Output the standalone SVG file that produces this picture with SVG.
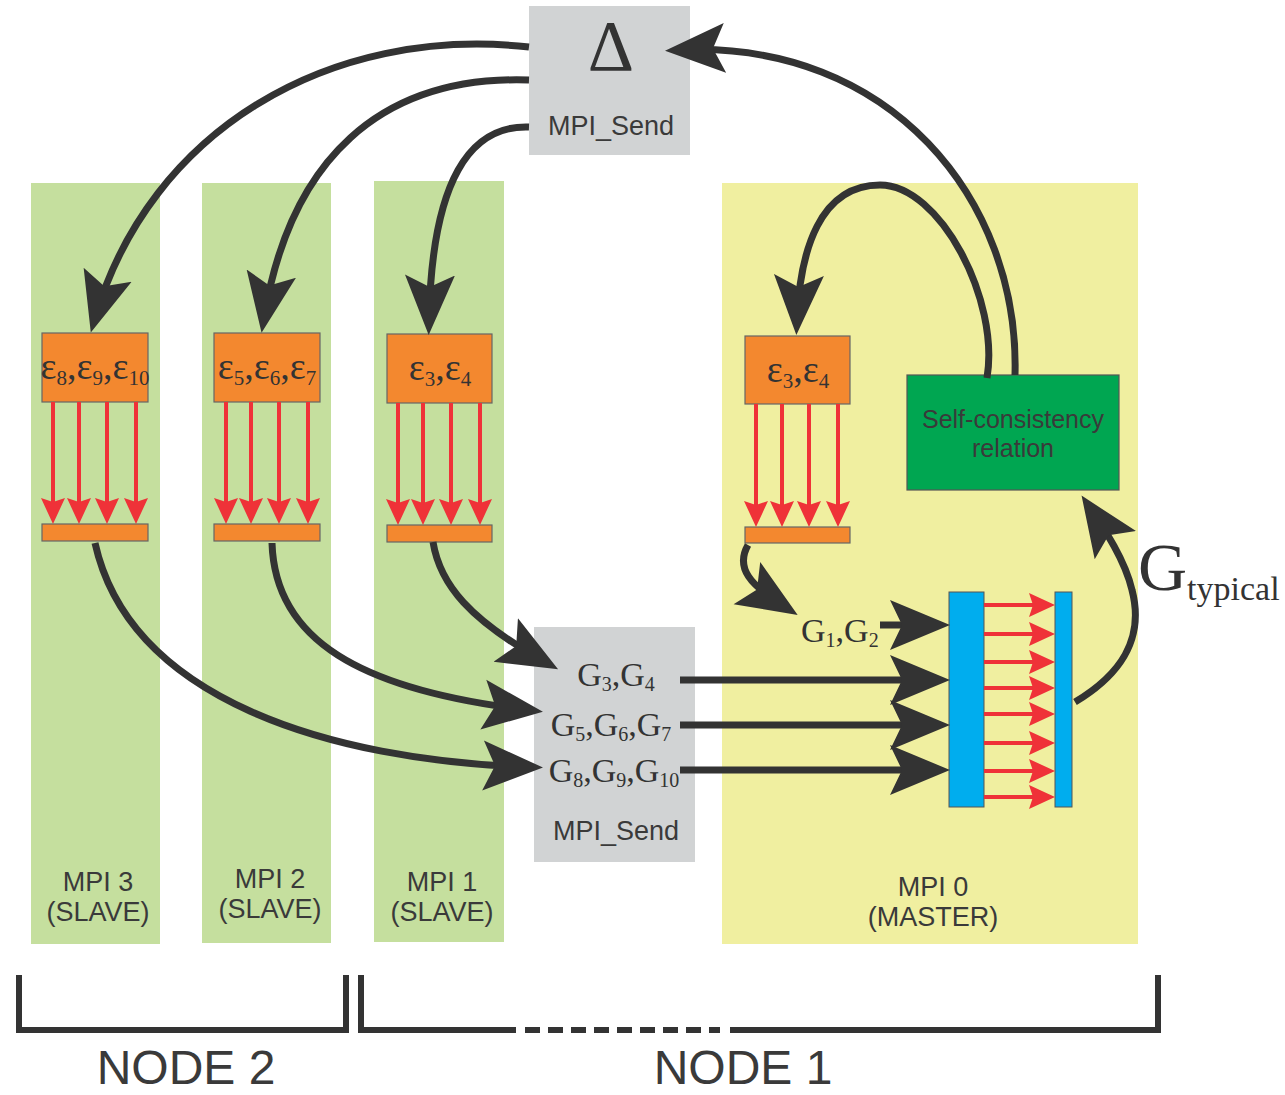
<svg xmlns="http://www.w3.org/2000/svg" width="1285" height="1095" viewBox="0 0 1285 1095">
<style>
.sans{font-family:"Liberation Sans",Arial,sans-serif;fill:#3a3a3a}
.serif{font-family:"Liberation Serif","Times New Roman",serif;fill:#333}
.gcol{fill:#c5df9e}
.ycol{fill:#f0efa0}
.gray{fill:#d1d3d4}
.orange{fill:#f3882f;stroke:#666;stroke-width:1.2}
.blue{fill:#00adee;stroke:#555;stroke-width:1}
.bk{fill:none;stroke:#333;stroke-width:7}
.rd{fill:none;stroke:#ef3238;stroke-width:4}
.br{fill:none;stroke:#333;stroke-width:6}
</style>
<defs>
<marker id="ah" markerUnits="userSpaceOnUse" markerWidth="70" markerHeight="60" viewBox="0 0 70 60" refX="45" refY="30" orient="auto"><path d="M0,5 L60,30 L0,55 L12,30 Z" fill="#333"/></marker>
<marker id="ra" markerUnits="userSpaceOnUse" markerWidth="30" markerHeight="30" viewBox="0 0 30 30" refX="18" refY="12" orient="auto"><path d="M0,0 L26,12 L0,24 L4,12 Z" fill="#ef3238"/></marker>
</defs>

<g id="col-mpi3"><rect class="gcol" x="31" y="183" width="129" height="761"/>
<text class="sans" font-size="27" text-anchor="middle" x="98" y="891">MPI 3</text>
<text class="sans" font-size="27" text-anchor="middle" x="98" y="921">(SLAVE)</text></g>
<g id="col-mpi2"><rect class="gcol" x="202" y="183" width="129" height="760"/>
<text class="sans" font-size="27" text-anchor="middle" x="270" y="888">MPI 2</text>
<text class="sans" font-size="27" text-anchor="middle" x="270" y="918">(SLAVE)</text></g>
<g id="col-mpi1"><rect class="gcol" x="374" y="181" width="130" height="761"/>
<text class="sans" font-size="27" text-anchor="middle" x="442" y="891">MPI 1</text>
<text class="sans" font-size="27" text-anchor="middle" x="442" y="921">(SLAVE)</text></g>
<g id="col-mpi0"><rect class="ycol" x="722" y="183" width="416" height="761"/>
<text class="sans" font-size="27" text-anchor="middle" x="933" y="896">MPI 0</text>
<text class="sans" font-size="27" text-anchor="middle" x="933" y="926">(MASTER)</text></g>

<g id="delta"><rect class="gray" x="529" y="6" width="161" height="149"/>
<text class="serif" font-size="72" text-anchor="middle" x="611" y="70">Δ</text>
<text class="sans" font-size="27" text-anchor="middle" x="611" y="135">MPI_Send</text></g>

<g id="gbox"><rect class="gray" x="534" y="627" width="161" height="235"/>
<text class="serif" font-size="34" text-anchor="middle" x="616" y="686">G<tspan font-size="20" dy="5">3</tspan><tspan dy="-5">,G</tspan><tspan font-size="20" dy="5">4</tspan></text>
<text class="serif" font-size="34" text-anchor="middle" x="611" y="736">G<tspan font-size="20" dy="5">5</tspan><tspan dy="-5">,G</tspan><tspan font-size="20" dy="5">6</tspan><tspan dy="-5">,G</tspan><tspan font-size="20" dy="5">7</tspan></text>
<text class="serif" font-size="34" text-anchor="middle" x="614" y="782">G<tspan font-size="20" dy="5">8</tspan><tspan dy="-5">,G</tspan><tspan font-size="20" dy="5">9</tspan><tspan dy="-5">,G</tspan><tspan font-size="20" dy="5">10</tspan></text>
<text class="sans" font-size="27" text-anchor="middle" x="616" y="840">MPI_Send</text></g>

<g id="eps-mpi3"><rect class="orange" x="42" y="333" width="106" height="69"/>
<text class="serif" font-size="38" text-anchor="middle" x="95" y="379">ε<tspan font-size="21" dy="6">8</tspan><tspan dy="-6">,ε</tspan><tspan font-size="21" dy="6">9</tspan><tspan dy="-6">,ε</tspan><tspan font-size="21" dy="6">10</tspan></text>
<rect class="orange" x="42" y="524" width="106" height="17"/>
<path class="rd" marker-end="url(#ra)" d="M53,402V516"/><path class="rd" marker-end="url(#ra)" d="M79,402V516"/><path class="rd" marker-end="url(#ra)" d="M107,402V516"/><path class="rd" marker-end="url(#ra)" d="M136,402V516"/></g>

<g id="eps-mpi2"><rect class="orange" x="214" y="333" width="106" height="69"/>
<text class="serif" font-size="38" text-anchor="middle" x="267" y="379">ε<tspan font-size="21" dy="6">5</tspan><tspan dy="-6">,ε</tspan><tspan font-size="21" dy="6">6</tspan><tspan dy="-6">,ε</tspan><tspan font-size="21" dy="6">7</tspan></text>
<rect class="orange" x="214" y="524" width="106" height="17"/>
<path class="rd" marker-end="url(#ra)" d="M226,402V516"/><path class="rd" marker-end="url(#ra)" d="M251,402V516"/><path class="rd" marker-end="url(#ra)" d="M279,402V516"/><path class="rd" marker-end="url(#ra)" d="M308,402V516"/></g>

<g id="eps-mpi1"><rect class="orange" x="387" y="334" width="105" height="69"/>
<text class="serif" font-size="38" text-anchor="middle" x="440" y="380">ε<tspan font-size="21" dy="6">3</tspan><tspan dy="-6">,ε</tspan><tspan font-size="21" dy="6">4</tspan></text>
<rect class="orange" x="387" y="525" width="105" height="17"/>
<path class="rd" marker-end="url(#ra)" d="M398,403V517"/><path class="rd" marker-end="url(#ra)" d="M423,403V517"/><path class="rd" marker-end="url(#ra)" d="M451,403V517"/><path class="rd" marker-end="url(#ra)" d="M480,403V517"/></g>

<g id="eps-mpi0"><rect class="orange" x="745" y="336" width="105" height="68"/>
<text class="serif" font-size="38" text-anchor="middle" x="798" y="382">ε<tspan font-size="21" dy="6">3</tspan><tspan dy="-6">,ε</tspan><tspan font-size="21" dy="6">4</tspan></text>
<rect class="orange" x="745" y="527" width="105" height="16"/>
<path class="rd" marker-end="url(#ra)" d="M756,404V519"/><path class="rd" marker-end="url(#ra)" d="M782,404V519"/><path class="rd" marker-end="url(#ra)" d="M809,404V519"/><path class="rd" marker-end="url(#ra)" d="M838,404V519"/></g>

<g id="selfcons"><rect x="907" y="375" width="212" height="115" fill="#00a651" stroke="#555" stroke-width="1.2"/>
<text class="sans" font-size="25" text-anchor="middle" x="1013" y="428">Self-consistency</text>
<text class="sans" font-size="25" text-anchor="middle" x="1013" y="457">relation</text></g>

<g id="g12"><text class="serif" font-size="34" x="801" y="642">G<tspan font-size="20" dy="5">1</tspan><tspan dy="-5">,G</tspan><tspan font-size="20" dy="5">2</tspan></text></g>

<g id="gtypical"><text class="serif" font-size="68" x="1138" y="590">G<tspan font-size="34" dy="10">typical</tspan></text></g>

<g id="blockG"><rect class="blue" x="949" y="592" width="35" height="215"/>
<rect class="blue" x="1055" y="592" width="17" height="215"/>
<path class="rd" marker-end="url(#ra)" d="M984,605H1047"/><path class="rd" marker-end="url(#ra)" d="M984,634H1047"/><path class="rd" marker-end="url(#ra)" d="M984,662H1047"/><path class="rd" marker-end="url(#ra)" d="M984,688H1047"/><path class="rd" marker-end="url(#ra)" d="M984,714H1047"/><path class="rd" marker-end="url(#ra)" d="M984,743H1047"/><path class="rd" marker-end="url(#ra)" d="M984,771H1047"/><path class="rd" marker-end="url(#ra)" d="M984,797H1047"/></g>

<g id="connectors">
<path class="bk" marker-end="url(#ah)" d="M529,47 C330,25 150,130 95,318"/>
<path class="bk" marker-end="url(#ah)" d="M529,80 C380,75 290,160 264,318"/>
<path class="bk" marker-end="url(#ah)" d="M529,127 C470,125 432,180 429,320"/>
<path class="bk" marker-end="url(#ah)" d="M1015,375 C1020,200 890,40 680,50"/>
<path class="bk" marker-end="url(#ah)" d="M987,378 C1000,300 940,185 880,185 C820,185 800,250 797,320"/>
<path class="bk" marker-end="url(#ah)" d="M748,545 C735,568 750,585 785,607"/>
<path class="bk" marker-end="url(#ah)" d="M880,625H935"/>
<path class="bk" marker-end="url(#ah)" d="M680,680H935"/>
<path class="bk" marker-end="url(#ah)" d="M680,725H935"/>
<path class="bk" marker-end="url(#ah)" d="M680,770H935"/>
<path class="bk" marker-end="url(#ah)" d="M1075,702 C1120,675 1145,640 1132,590 C1125,560 1105,530 1090,508"/>
<path class="bk" marker-end="url(#ah)" d="M433,542 C440,585 470,620 545,662"/>
<path class="bk" marker-end="url(#ah)" d="M272,543 C275,640 360,690 528,710"/>
<path class="bk" marker-end="url(#ah)" d="M95,543 C130,700 330,760 528,767"/>
</g>

<g id="node2"><path class="br" d="M19,975V1030H346V975"/>
<text class="sans" font-size="48" text-anchor="middle" x="186" y="1084">NODE 2</text></g>
<g id="node1"><path class="br" d="M361,975V1030H516M730,1030H1158V975"/>
<path class="br" d="M525,1030H720" stroke-dasharray="15,8"/>
<text class="sans" font-size="48" text-anchor="middle" x="743" y="1084">NODE 1</text></g>
</svg>
